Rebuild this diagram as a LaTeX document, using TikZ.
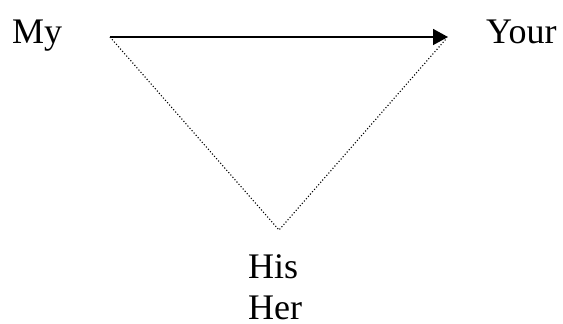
\documentclass[tikz,border=0pt]{standalone}
\usepackage{fontspec}
\setmainfont{Liberation Serif}
\usetikzlibrary{arrows.meta}
\tikzset{
  lbl/.style={anchor=base west, inner sep=0pt, font=\fontsize{36}{40}\selectfont},
  mainarrow/.style={line width=1.6pt, -{Triangle[length=15pt,width=16pt]}},
  dotline/.style={line width=1.1pt, dash pattern=on 1.1pt off 2pt}
}
\begin{document}
\begin{tikzpicture}[x=1pt,y=1pt]
\useasboundingbox (0,0) rectangle (563,324);
\node[lbl] (my) at (12,280) {My};
\node[lbl] (your) at (486,280) {Your};
\node[lbl] (his) at (248,45) {His};
\node[lbl] (her) at (248,4) {Her};
\coordinate (a) at (110,287);
\coordinate (b) at (448,287);
\coordinate (bd) at (446,285);
\coordinate (c) at (279,94);
\draw[mainarrow] (a) -- (b);
\draw[dotline] (a) -- (c) -- (bd);
\end{tikzpicture}
\end{document}
